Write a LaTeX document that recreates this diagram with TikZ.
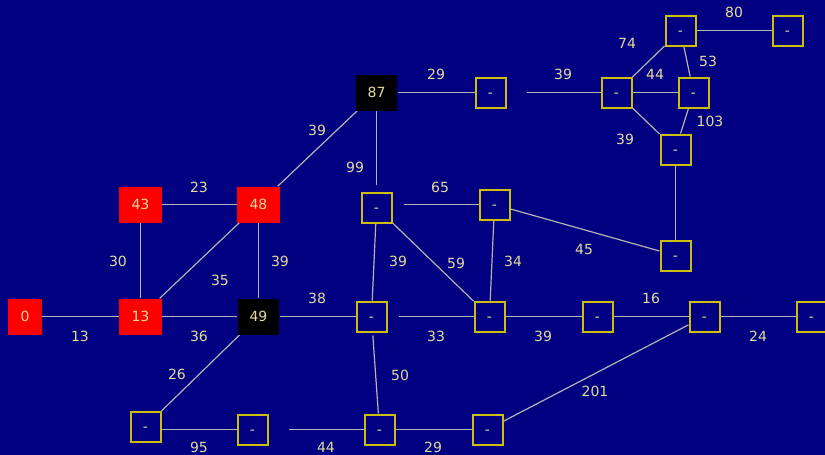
\documentclass[tikz,border=0pt]{standalone}
\usepackage{fontspec}
\setmainfont{DejaVu Sans}
\definecolor{bgblue}{RGB}{0,0,128}
\definecolor{boxyellow}{RGB}{205,190,10}
\definecolor{txtc}{RGB}{228,218,160}
\definecolor{edgec}{RGB}{180,180,180}
\pgfdeclarelayer{edgelayer}
\pgfsetlayers{edgelayer,main}
\tikzset{
  base/.style={font=\fontsize{14}{16}\selectfont, text=txtc, text height=10pt, text depth=0pt},
  redbox/.style={base, fill=red, draw=none, inner xsep=12.5pt, minimum height=36pt},
  blackbox/.style={base, fill=black, draw=none, inner xsep=12pt, minimum height=36pt},
  ybox/.style={base, draw=boxyellow, fill=bgblue, line width=2pt, minimum width=30pt, minimum height=30pt, inner sep=0pt},
  wlabel/.style={base},
  edge/.style={draw=edgec, line width=1.2pt}
}
\begin{document}
\begin{tikzpicture}[x=1pt,y=-1pt]
\begin{pgfonlayer}{edgelayer}
\fill[bgblue] (0,0) rectangle (825,455);
\end{pgfonlayer}
\useasboundingbox (0,0) rectangle (825,455);
% nodes
\node[redbox] (n0) at (25,316.5) {0};
\node[redbox] (n13) at (140.5,316.5) {13};
\node[redbox] (n43) at (140.5,204.5) {43};
\node[redbox] (n48) at (258.5,204.5) {48};
\node[blackbox] (n49) at (258.5,316.5) {49};
\node[blackbox] (n87) at (376.5,92.5) {87};
\node[ybox] (A) at (490.5,92.5) {-};
\node[ybox] (B) at (376.5,207.5) {-};
\node[ybox] (C) at (494.5,204.5) {-};
\node[ybox] (D) at (680.5,30.5) {-};
\node[ybox] (E) at (787.5,30.5) {-};
\node[ybox] (F) at (616.5,92.5) {-};
\node[ybox] (G) at (693.5,92.5) {-};
\node[ybox] (H) at (675.5,149.5) {-};
\node[ybox] (I) at (675.5,255.5) {-};
\node[ybox] (J) at (371.5,316.5) {-};
\node[ybox] (K) at (489.5,316.5) {-};
\node[ybox] (L) at (597.5,316.5) {-};
\node[ybox] (M) at (704.5,316.5) {-};
\node[ybox] (N) at (811.5,316.5) {-};
\node[ybox] (O) at (145.5,426.5) {-};
\node[ybox] (P) at (252.5,429.5) {-};
\node[ybox] (Q) at (379.5,429.5) {-};
\node[ybox] (R) at (487.5,429.5) {-};
% edges
\begin{pgfonlayer}{edgelayer}
\draw[edge] (n0) -- (n13);
\draw[edge] (n13) -- (n49);
\draw[edge] (n43) -- (n48);
\draw[edge] (n43) -- (n13);
\draw[edge] (n48) -- (n13);
\draw[edge] (n48) -- (n49);
\draw[edge] (n48) -- (n87);
\draw[edge] (n87) -- (A);
\draw[edge, shorten <=20pt] (A) -- (F);
\draw[edge, shorten >=7pt] (n87) -- (B);
\draw[edge, shorten <=11pt] (B.east |- C.west) -- (C.west);
\draw[edge] (B) -- (J);
\draw[edge] (B) -- (K);
\draw[edge] (C) -- (K);
\draw[edge] (C) -- (I);
\draw[edge] (H) -- (I);
\draw[edge] (F) -- (D);
\draw[edge] (F) -- (G);
\draw[edge] (D) -- (G);
\draw[edge] (D) -- (E);
\draw[edge] (F) -- (H);
\draw[edge] (G) -- (H);
\draw[edge] (n49) -- (J);
\draw[edge, shorten <=11pt] (J) -- (K);
\draw[edge] (K) -- (L);
\draw[edge] (L) -- (M);
\draw[edge] (M) -- (N);
\draw[edge] (M) -- (R);
\draw[edge, shorten <=3pt] (J) -- (Q);
\draw[edge] (Q) -- (R);
\draw[edge, shorten <=20pt] (P) -- (Q);
\draw[edge] (O.east |- P.west) -- (P.west);
\draw[edge] (n49) -- (O);
\end{pgfonlayer}
% labels
\node[wlabel] (l1) at (80,336) {13};
\node[wlabel] (l2) at (199,336) {36};
\node[wlabel] (l3) at (199,187) {23};
\node[wlabel] (l4) at (118,261) {30};
\node[wlabel] (l5) at (220,280) {35};
\node[wlabel] (l6) at (280,261) {39};
\node[wlabel] (l7) at (317,130) {39};
\node[wlabel] (l8) at (436,74) {29};
\node[wlabel] (l9) at (563,74) {39};
\node[wlabel] (l10) at (355,167) {99};
\node[wlabel] (l11) at (440,187) {65};
\node[wlabel] (l12) at (398,261) {39};
\node[wlabel] (l13) at (456,263) {59};
\node[wlabel] (l14) at (513,261) {34};
\node[wlabel] (l15) at (584,249) {45};
\node[wlabel] (l16) at (627,43) {74};
\node[wlabel] (l17) at (734,12) {80};
\node[wlabel] (l18) at (708,61) {53};
\node[wlabel] (l19) at (655,74) {44};
\node[wlabel] (l20) at (710,121) {103};
\node[wlabel] (l21) at (625,139) {39};
\node[wlabel] (l22) at (317,298) {38};
\node[wlabel] (l23) at (436,336) {33};
\node[wlabel] (l24) at (543,336) {39};
\node[wlabel] (l25) at (651,298) {16};
\node[wlabel] (l26) at (758,336) {24};
\node[wlabel] (l27) at (177,374) {26};
\node[wlabel] (l28) at (400,375) {50};
\node[wlabel] (l29) at (595,391) {201};
\node[wlabel] (l30) at (199,447) {95};
\node[wlabel] (l31) at (326,447) {44};
\node[wlabel] (l32) at (433,447) {29};
\end{tikzpicture}
\end{document}
